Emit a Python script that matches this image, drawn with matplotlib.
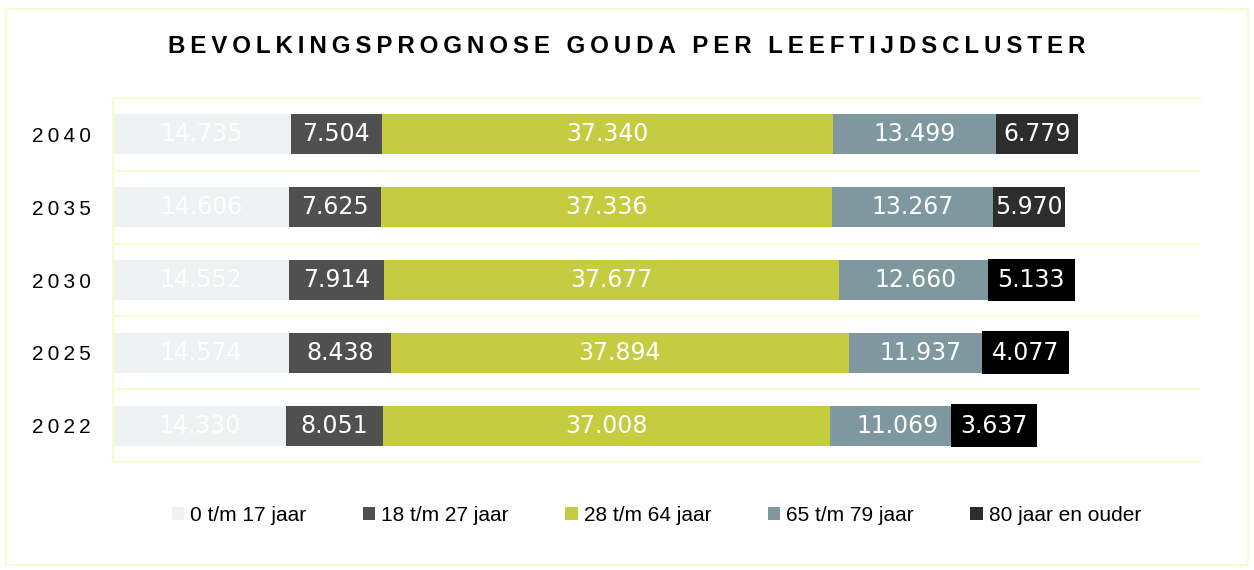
import numpy as np
import matplotlib.pyplot as plt
from matplotlib.patches import Patch, Rectangle

# data, bottom row first
years = ['2022', '2025', '2030', '2035', '2040']
groups = ['0 t/m 17 jaar', '18 t/m 27 jaar', '28 t/m 64 jaar', '65 t/m 79 jaar', '80 jaar en ouder']
age_0_17 = [14330, 14574, 14552, 14606, 14735]
age_18_27 = [8051, 8438, 7914, 7625, 7504]
age_28_64 = [37008, 37894, 37677, 37336, 37340]
age_65_79 = [11069, 11937, 12660, 13267, 13499]
age_80_plus = [3637, 4077, 5133, 5970, 6779]

colors = ['#eef2f3', '#505050', '#c5cc40', '#7f98a0', '#2d2d2d']
yellow = '#fafad0'


def spaced(s):
    return '\u2009'.join(s)


def fmt(v):
    return f"{v:,}".replace(',', '.')


fig = plt.figure(figsize=(12.54, 5.70), dpi=100)
ax = fig.add_axes([0.090, 0.1895, 0.867, 0.6385])

series = [age_0_17, age_18_27, age_28_64, age_65_79, age_80_plus]
y = np.arange(len(years))
left = np.zeros(len(years))
for i, vals in enumerate(series):
    vals = np.array(vals)
    ax.barh(y, vals, left=left, height=0.55, color=colors[i], label=groups[i], zorder=2)
    for yi, (l, v) in enumerate(zip(left, vals)):
        cx = l + v / 2
        if i == 4 and yi < 3:
            # Excel-style black label box, drawn a bit to the right
            ax.annotate(fmt(v), (cx, yi), xytext=(8, 0), textcoords='offset pixels',
                        ha='center', va='center', color='white',
                        fontsize=17, family='DejaVu Sans', zorder=4,
                        bbox=dict(boxstyle='square,pad=0.4', fc='black', ec='none'))
        else:
            ax.text(cx, yi, fmt(v), ha='center', va='center', color='white',
                    fontsize=17, family='DejaVu Sans', zorder=4)
    left = left + vals

ax.set_xlim(0, 90000)
ax.set_ylim(-0.5, len(years) - 0.5)
ax.set_xticks([])
ax.set_yticks(y)
ax.set_yticklabels([spaced(t) for t in years], family=['Liberation Sans', 'DejaVu Sans'], fontsize=15)
ax.tick_params(axis='y', length=0, pad=16)
ax.set_yticks(np.arange(len(years) + 1) - 0.5, minor=True)
ax.tick_params(axis='y', which='minor', length=0)
ax.grid(axis='y', which='minor', color=yellow, linewidth=1.5, zorder=0)
for side in ['top', 'bottom', 'left']:
    ax.spines[side].set_color(yellow)
    ax.spines[side].set_linewidth(1.5)
ax.spines['right'].set_visible(False)

fig.text(0.5, 0.919, spaced('BEVOLKINGSPROGNOSE GOUDA PER LEEFTIJDSCLUSTER'),
         ha='center', va='center', fontsize=17.4, fontweight='bold',
         family=['Liberation Sans', 'DejaVu Sans'])

handles = [Patch(facecolor=c, edgecolor='none') for c in colors]
ax.legend(handles, groups, loc='center', bbox_to_anchor=(0.5, -0.146), ncol=5,
          frameon=False, handlelength=0.6, handleheight=0.6, handletextpad=0.3,
          columnspacing=2.7, prop={'family': 'Liberation Sans', 'size': 15})

# outer border
fig.patches.append(Rectangle((0.005, 0.009), 0.99, 0.975, transform=fig.transFigure,
                             fill=False, edgecolor=yellow, linewidth=1.5))

fig.savefig('out.png', dpi=100)
